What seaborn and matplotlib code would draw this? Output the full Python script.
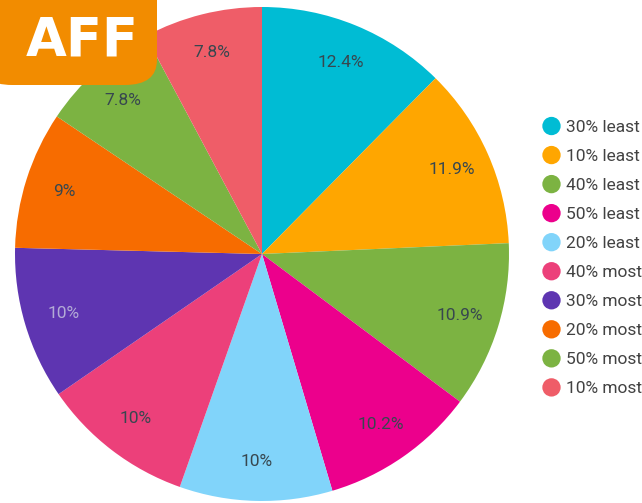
import matplotlib
matplotlib.use("Agg")
import matplotlib.pyplot as plt
import matplotlib.patches as mpatches
from matplotlib.legend_handler import HandlerPatch
import seaborn as sns

sns.set_theme(style="white")
plt.rcParams['font.family'] = ['Roboto', 'DejaVu Sans']

# Data
groups = ['30% least', '10% least', '40% least', '50% least', '20% least',
          '40% most', '30% most', '20% most', '50% most', '10% most']
shares = [12.4, 11.9, 10.9, 10.2, 10, 10, 10, 9, 7.8, 7.8]
labels = ['12.4%', '11.9%', '10.9%', '10.2%', '10%', '10%', '10%', '9%', '7.8%', '7.8%']
colors = ['#00BCD4', '#FFA600', '#7CB342', '#EC008C', '#81D4FA',
          '#EC407A', '#5E35B1', '#F76C00', '#7CB342', '#EF5D68']


class HandlerCircle(HandlerPatch):
    def create_artists(self, legend, orig_handle, xdescent, ydescent,
                       width, height, fontsize, trans):
        center = (width / 2 - xdescent, height / 2 - ydescent)
        p = mpatches.Circle(center, radius=6.6, facecolor=orig_handle.get_facecolor(),
                            edgecolor='none', transform=trans)
        return [p]


W, H = 642, 503
fig = plt.figure(figsize=(W / 100, H / 100), dpi=100)
cx, cy, r = 262, 254, 247
ax = fig.add_axes([(cx - r) / W, (H - cy - r) / H, 2 * r / W, 2 * r / H])

wedges, texts = ax.pie(shares, colors=colors, startangle=90, counterclock=False,
                       labels=labels, labeldistance=0.84,
                       wedgeprops=dict(linewidth=0),
                       textprops=dict(fontsize=12.5, color='#37474F'))
for t in texts:
    t.set_ha('center')
    t.set_va('center')
texts[6].set_color('#B3ABD6')
ax.set_xlim(-1, 1)
ax.set_ylim(-1, 1)
ax.set_aspect('equal')
ax.axis('off')

# Legend
fig.legend(wedges, groups, loc='upper left', bbox_to_anchor=(535 / W, 1 - 113 / H),
           frameon=False, fontsize=12.5, labelspacing=0.8, handletextpad=0.3,
           handlelength=1.1, borderaxespad=0, labelcolor='#424242',
           handler_map={mpatches.Wedge: HandlerCircle()})

# AFF badge
badge = mpatches.FancyBboxPatch((-20 / W, 1 - 85 / H), 177 / W, 110 / H,
                                boxstyle="round,pad=0,rounding_size=0.05",
                                transform=fig.transFigure, facecolor='#F28C00',
                                edgecolor='none', zorder=5)
fig.patches.append(badge)
fig.text(82 / W, 1 - 41 / H, 'AFF', color='white', fontsize=38, fontweight='bold',
         family=['Liberation Sans Narrow', 'DejaVu Sans'],
         ha='center', va='center', zorder=6)

fig.savefig('out.png', dpi=100)
